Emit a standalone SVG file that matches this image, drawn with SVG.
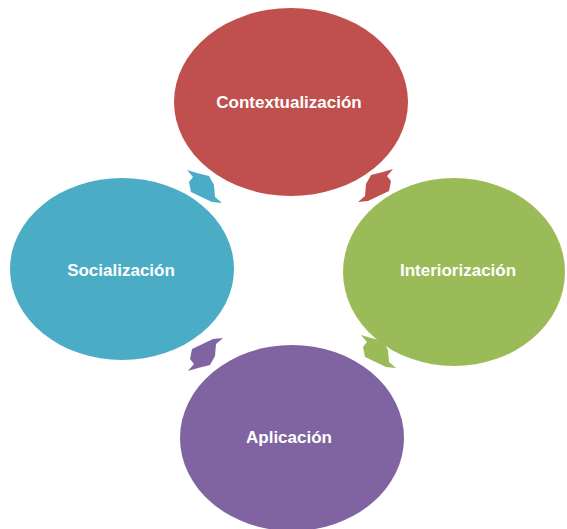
<svg xmlns="http://www.w3.org/2000/svg" width="567" height="529" viewBox="0 0 567 529">
<style>
.lbl{font-family:"Liberation Sans",Arial,sans-serif;font-weight:bold;font-size:17px;fill:#ffffff;text-anchor:middle}
</style>
<defs>
<polygon id="arw" points="-17,-17 -7,-14 5,-11 10,-2 11,10 18,16 8,15 -13,5 -15,-5 -11,-10"/>
</defs>
<rect width="567" height="529" fill="#ffffff"/>
<g id="n-contextualizacion">
<ellipse cx="291" cy="102" rx="117" ry="94" fill="#C0504D"/>
<text class="lbl" x="289" y="108">Contextualización</text>
</g>
<g id="n-interiorizacion">
<ellipse cx="454" cy="272" rx="111" ry="94" fill="#9BBB59"/>
<text class="lbl" x="458" y="276">Interiorización</text>
</g>
<g id="n-aplicacion">
<ellipse cx="292" cy="438" rx="112" ry="93" fill="#8064A2"/>
<text class="lbl" x="289" y="443">Aplicación</text>
</g>
<g id="n-socializacion">
<ellipse cx="122" cy="269" rx="112" ry="91" fill="#4BACC6"/>
<text class="lbl" x="121" y="276">Socialización</text>
</g>
<g id="connectors">
<use href="#arw" transform="translate(204,187)" fill="#4BACC6"/>
<use href="#arw" transform="translate(376,186) scale(-1,1)" fill="#C0504D"/>
<use href="#arw" transform="translate(378,352)" fill="#9BBB59"/>
<use href="#arw" transform="translate(205,354) scale(1,-1)" fill="#8064A2"/>
</g>
</svg>
